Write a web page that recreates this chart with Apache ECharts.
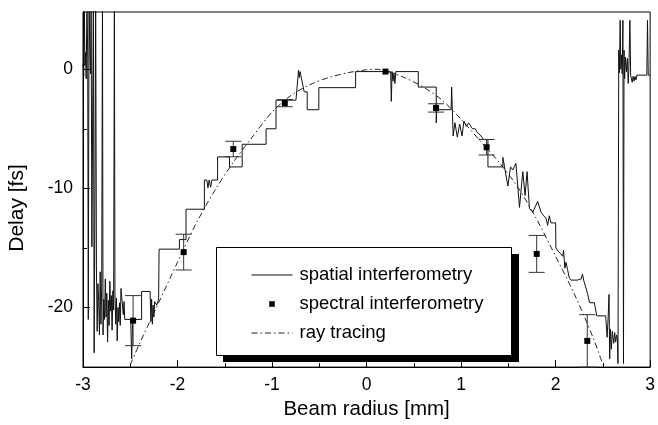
<!DOCTYPE html>
<html>
<head>
<meta charset="utf-8">
<script src="https://cdn.jsdelivr.net/npm/echarts@6/dist/echarts.min.js"></script>
<style>
  html, body { margin: 0; padding: 0; background: #fff; }
  #chart { width: 658px; height: 425px; }
</style>
</head>
<body>
<div id="chart"></div>
<script>
// spatial interferometry trace, [radius mm, delay fs]
const spatialPts = [
  [-3.000, 0.4], [-2.992, -0.6], [-2.986, 6], [-2.980, 0.3], [-2.972, 1.4], [-2.966, -0.8],
  [-2.958, 6], [-2.950, 0.9], [-2.944, -21.0], [-2.936, 6], [-2.928, 1.6], [-2.920, -0.4],
  [-2.914, 6], [-2.906, -14.9], [-2.898, -4.0], [-2.890, 6], [-2.882, -23.8], [-2.874, -11.5],
  [-2.866, 6], [-2.858, -16.5], [-2.850, -22.0], [-2.842, -18.0], [-2.834, -19.5], [-2.826, -22.3],
  [-2.818, -17.0], [-2.810, -21.4], [-2.802, -18.2], [-2.794, 6], [-2.788, -22.3], [-2.780, -19.3],
  [-2.772, -21.0], [-2.764, -17.6], [-2.756, -20.8], [-2.748, -18.8], [-2.740, -22.9], [-2.732, -19.4],
  [-2.724, -21.5], [-2.716, -17.8], [-2.708, -20.3], [-2.700, -19.0], [-2.692, -21.9], [-2.684, -18.6],
  [-2.676, -20.2], [-2.668, 6], [-2.662, -18.8], [-2.654, -21.4], [-2.646, -19.2], [-2.638, -22.8],
  [-2.630, -20.0], [-2.622, -21.2], [-2.614, -19.6], [-2.606, -21.5], [-2.598, -18.4], [-2.582, -18.4],
  [-2.574, -20.6], [-2.566, -19.5], [-2.558, -21.0], [-2.495, -21.0], [-2.485, -24.3], [-2.475, -21.0],
  [-2.380, -21.0], [-2.380, -18.65], [-2.290, -18.65], [-2.282, -21.2], [-2.274, -19.3], [-2.266, -21.4],
  [-2.258, -19.8], [-2.250, -20.8], [-2.242, -19.5], [-2.220, -19.8], [-2.200, -19.3], [-2.195, -15.1],
  [-1.980, -15.1], [-1.980, -14.3], [-1.910, -14.3], [-1.910, -11.75], [-1.716, -11.75], [-1.716, -9.3],
  [-1.690, -9.3], [-1.678, -9.95], [-1.665, -9.3], [-1.650, -9.9], [-1.636, -9.3], [-1.576, -9.3],
  [-1.576, -7.36], [-1.450, -7.36], [-1.450, -8.2], [-1.316, -8.2], [-1.316, -6.3], [-1.063, -6.3],
  [-1.063, -5.0], [-0.958, -5.0], [-0.958, -2.6], [-0.747, -2.6], [-0.720, -0.1], [-0.712, -0.7],
  [-0.705, -0.2], [-0.696, -0.5], [-0.660, -1.9], [-0.628, -1.9], [-0.628, -3.4], [-0.505, -3.4],
  [-0.505, -1.55], [-0.116, -1.55], [-0.116, -0.2], [0.255, -0.2], [0.262, -2.7], [0.270, -0.2],
  [0.280, -1.0], [0.290, -0.3], [0.300, -1.2], [0.310, -0.2], [0.547, -0.2], [0.547, -1.5],
  [0.737, -1.5], [0.737, -4.5], [0.742, -3.4], [0.895, -3.4], [0.900, -1.5], [0.916, -5.6],
  [0.935, -4.5], [0.960, -5.7], [0.985, -4.6], [1.010, -5.6], [1.030, -4.35], [1.055, -4.8],
  [1.080, -4.5], [1.100, -4.6], [1.120, -5.0], [1.150, -5.0], [1.170, -5.3], [1.200, -5.5],
  [1.240, -5.9], [1.284, -5.9], [1.284, -8.2], [1.442, -8.2], [1.442, -7.4], [1.460, -7.5],
  [1.495, -9.8], [1.523, -8.2], [1.547, -8.45], [1.580, -7.9], [1.618, -11.6], [1.653, -8.6],
  [1.677, -10.6], [1.698, -8.6], [1.723, -11.7], [1.758, -12.0], [1.810, -11.1], [1.846, -12.0],
  [1.874, -12.3], [1.898, -12.5], [1.916, -13.1], [1.933, -12.3], [1.951, -12.9], [2.000, -12.9],
  [2.003, -15.0], [2.030, -15.3], [2.056, -15.5], [2.075, -15.7], [2.084, -15.2], [2.098, -16.7],
  [2.110, -16.2], [2.126, -16.8], [2.144, -17.5], [2.161, -17.7], [2.231, -17.7], [2.270, -17.6],
  [2.284, -17.2], [2.300, -17.8], [2.337, -18.8], [2.360, -19.6], [2.410, -19.6], [2.435, -20.7],
  [2.530, -20.7], [2.545, -22.5], [2.555, -21.0], [2.565, -18.9], [2.572, -24.3], [2.580, -21.8],
  [2.590, -23.5], [2.600, -22.0], [2.615, -23.0], [2.625, -22.1], [2.635, -22.9], [2.645, -22.3],
  [2.653, -22.6], [2.660, -24.7], [2.668, 1.6], [2.675, -0.3], [2.683, 4.1], [2.690, 0.0],
  [2.697, 1.2], [2.705, -0.4], [2.712, 4.1], [2.718, -24.7], [2.724, 1.6], [2.730, -0.8],
  [2.740, 1.0], [2.750, -0.2], [2.760, 0.9], [2.768, -1.2], [2.776, 0.3], [2.786, 4.1],
  [2.794, -0.5], [2.810, -1.1], [2.820, -0.6], [2.830, -1.0], [2.840, -0.6], [2.850, -0.9],
  [2.860, -0.5], [2.965, -0.5], [2.972, 4.1], [2.980, -0.5], [3.000, -0.5]
];

// spectral interferometry points with error half-widths
const specX = [-2.47, -1.935, -1.41, -0.865, 0.2, 0.735, 1.27, 1.80, 2.335];
const specY = [-21.1, -15.35, -6.7, -2.85, -0.2, -3.25, -6.55, -15.5, -22.8];
const specErr = [2.1, 1.5, 0.65, 0.3, 0, 0.35, 0.65, 1.55, 2.2];

// ray tracing curve
const rayX = [-2.50, -2.40, -2.20, -2.00, -1.80, -1.60, -1.40, -1.20, -1.00, -0.80, -0.60, -0.40, -0.20,
  0.00, 0.10, 0.20, 0.40, 0.60, 0.80, 1.00, 1.20, 1.40, 1.60, 1.80, 2.00, 2.20, 2.40, 2.50];
const rayY = [-24.8, -23.0, -19.6, -16.2, -12.9, -10.1, -7.7, -5.6, -3.6, -2.2, -1.3, -0.7, -0.3,
  -0.05, 0.0, -0.15, -0.7, -1.5, -2.6, -4.2, -6.0, -7.8, -9.9, -12.6, -15.7, -18.9, -22.6, -24.8];

const xTicks = [-3, -2, -1, 0, 1, 2, 3];
const yMajor = [-20, -10, 0];
const yMinor = [-15, -5];

const font = '"Liberation Sans", Arial, Helvetica, sans-serif';

const specData = specX.map((x, i) => [x, specY[i]]);
const errData = specX.map((x, i) => [x, specY[i], specErr[i]]);
const rayData = rayX.map((x, i) => [x, rayY[i]]);

const chart = echarts.init(document.getElementById('chart'), null, { renderer: 'canvas' });

const option = {
  backgroundColor: '#fff',
  animation: false,
  grid: {
    left: 83, right: 5, top: 12, bottom: 52,
    show: true, borderColor: '#000', borderWidth: 1, backgroundColor: 'transparent'
  },
  xAxis: {
    type: 'value', min: -3, max: 3, interval: 1,
    name: 'Beam radius [mm]', nameLocation: 'middle', nameGap: 27,
    nameTextStyle: { fontSize: 20.5, color: '#000', fontFamily: font },
    axisLine: { onZero: false, lineStyle: { color: '#000', width: 1 } },
    axisTick: { inside: true, length: 7, lineStyle: { color: '#000' } },
    minorTick: { show: true, splitNumber: 2, length: 4, lineStyle: { color: '#000' } },
    splitLine: { show: false },
    axisLabel: {
      fontSize: 17.5, color: '#000', fontFamily: font, margin: 9,
      customValues: xTicks
    }
  },
  yAxis: [{
    type: 'value', min: -25, max: 4.8, position: 'left',
    axisLine: { show: true, onZero: false, lineStyle: { color: '#000', width: 1 } },
    axisTick: { inside: true, length: 7, customValues: yMajor, lineStyle: { color: '#000' } },
    splitLine: { show: false },
    axisLabel: { fontSize: 17.5, color: '#000', fontFamily: font, margin: 10, customValues: yMajor }
  }, {
    type: 'value', min: -25, max: 4.8, position: 'left', offset: 0,
    axisLine: { show: false, onZero: false },
    axisTick: { show: true, inside: true, length: 4, customValues: yMinor, lineStyle: { color: '#000' } },
    axisLabel: { show: false },
    splitLine: { show: false }
  }],
  legend: {
    orient: 'vertical', left: 246, top: 260, z: 10,
    itemWidth: 41, itemHeight: 7, itemGap: 9,
    selectedMode: false,
    textStyle: { fontSize: 18.5, color: '#000', fontFamily: font, lineHeight: 20, padding: [0, 0, 0, 2] },
    lineStyle: { width: 1 },
    data: [
      { name: 'spatial interferometry', itemStyle: { opacity: 0 } },
      { name: 'spectral interferometry', lineStyle: { color: 'rgba(0,0,0,0)', width: 0 } },
      { name: 'ray tracing', itemStyle: { opacity: 0 } }
    ]
  },
  graphic: [
    { type: 'rect', z: 5, shape: { x: 223, y: 254, width: 296, height: 108 }, style: { fill: '#000' } },
    { type: 'rect', z: 6, shape: { x: 216.5, y: 247.5, width: 295, height: 108 },
      style: { fill: '#fff', stroke: '#000', lineWidth: 1 } },
    { type: 'text', x: 17, y: 208, rotation: Math.PI / 2, z: 6,
      style: { text: 'Delay [fs]', fontSize: 21, fontFamily: font, fill: '#000', align: 'center', verticalAlign: 'middle' } }
  ],
  series: [
    {
      name: 'spatial interferometry', type: 'line', data: spatialPts,
      symbol: 'none', showSymbol: false, clip: true, z: 2,
      lineStyle: { color: '#111', width: 1 }, itemStyle: { color: '#111' }
    },
    {
      name: 'ray tracing', type: 'line', data: rayData, smooth: 0.3,
      symbol: 'none', showSymbol: false, clip: true, z: 2,
      lineStyle: { color: '#222', width: 1, type: [6, 3, 1.5, 3] }, itemStyle: { color: '#222' }
    },
    {
      name: 'error', type: 'custom', data: errData, z: 3,
      renderItem: function (params, api) {
        const x = api.value(0), y = api.value(1), e = api.value(2);
        if (!e) return null;
        const hi = api.coord([x, y + e]);
        const lo = api.coord([x, y - e]);
        const w = 8;
        const st = { stroke: '#333', lineWidth: 1 };
        return {
          type: 'group',
          children: [
            { type: 'line', shape: { x1: hi[0], y1: hi[1], x2: lo[0], y2: lo[1] }, style: st },
            { type: 'line', shape: { x1: hi[0] - w, y1: hi[1], x2: hi[0] + w, y2: hi[1] }, style: st },
            { type: 'line', shape: { x1: lo[0] - w, y1: lo[1], x2: lo[0] + w, y2: lo[1] }, style: st }
          ]
        };
      }
    },
    {
      name: 'spectral interferometry', type: 'line', data: specData, z: 4,
      symbol: 'rect', symbolSize: 6, showSymbol: true,
      lineStyle: { width: 0, opacity: 0 }, itemStyle: { color: '#000' }
    }
  ]
};

chart.setOption(option);
</script>
</body>
</html>
